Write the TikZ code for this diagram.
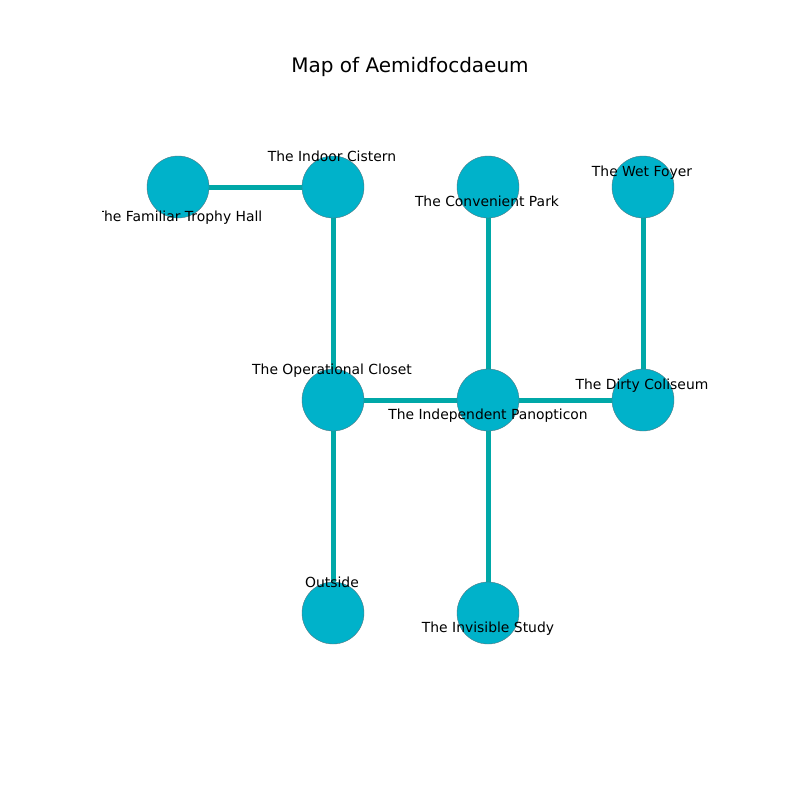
\documentclass[tikz,border=0pt]{standalone}
\usepackage{fontspec}
\setmainfont{DejaVu Sans}
\definecolor{roomfill}{RGB}{0,178,202}
\definecolor{roomline}{RGB}{80,120,130}
\definecolor{passage}{RGB}{0,168,168}
\pgfdeclarelayer{background}
\pgfsetlayers{background,main}
\begin{document}
\begin{tikzpicture}[x=1pt,y=-1pt,
  room/.style={circle,fill=roomfill,draw=roomline,line width=0.4pt,minimum size=62pt,inner sep=0pt},
  passage/.style={draw=passage,line width=5pt},
  roomlabel/.style={font=\fontsize{13.9}{16}\selectfont,inner sep=0pt,anchor=base},
  titlelabel/.style={font=\fontsize{20}{24}\selectfont,inner sep=0pt}]
\useasboundingbox (0,0) rectangle (800,800);
% rooms
\node[room] (hall)    at (178,187) {};
\node[room] (cistern) at (333,187) {};
\node[room] (park)    at (488,187) {};
\node[room] (foyer)   at (643,187) {};
\node[room] (closet)  at (333,400) {};
\node[room] (panop)   at (488,400) {};
\node[room] (colis)   at (643,400) {};
\node[room] (outside) at (333,613) {};
\node[room] (study)   at (488,613) {};
% passages, beneath the rooms
\begin{pgfonlayer}{background}
\fill[white] (0,0) rectangle (800,800);
\draw[passage] (hall.center) -- (cistern.center);
\draw[passage] (cistern.center) -- (closet.center);
\draw[passage] (closet.center) -- (panop.center);
\draw[passage] (closet.center) -- (outside.center);
\draw[passage] (park.center) -- (panop.center);
\draw[passage] (panop.center) -- (colis.center);
\draw[passage] (panop.center) -- (study.center);
\draw[passage] (foyer.center) -- (colis.center);
\end{pgfonlayer}
% labels (the plot area cuts off the left edge of the first one)
\begin{scope}
\clip (102,100) rectangle (720,720);
\node[roomlabel] (lhall) at (179,221) {The Familiar Trophy Hall};
\end{scope}
\node[roomlabel] (lcistern) at (332,161) {The Indoor Cistern};
\node[roomlabel] (lpark)    at (487,206) {The Convenient Park};
\node[roomlabel] (lfoyer)   at (642,176) {The Wet Foyer};
\node[roomlabel] (lcloset)  at (332,374) {The Operational Closet};
\node[roomlabel] (lpanop)   at (488,419) {The Independent Panopticon};
\node[roomlabel] (lcolis)   at (642,389) {The Dirty Coliseum};
\node[roomlabel] (loutside) at (332,587) {Outside};
\node[roomlabel] (lstudy)   at (488,632) {The Invisible Study};
\node[titlelabel] (title) at (410,67) {Map of Aemidfocdaeum};
\end{tikzpicture}
\end{document}
